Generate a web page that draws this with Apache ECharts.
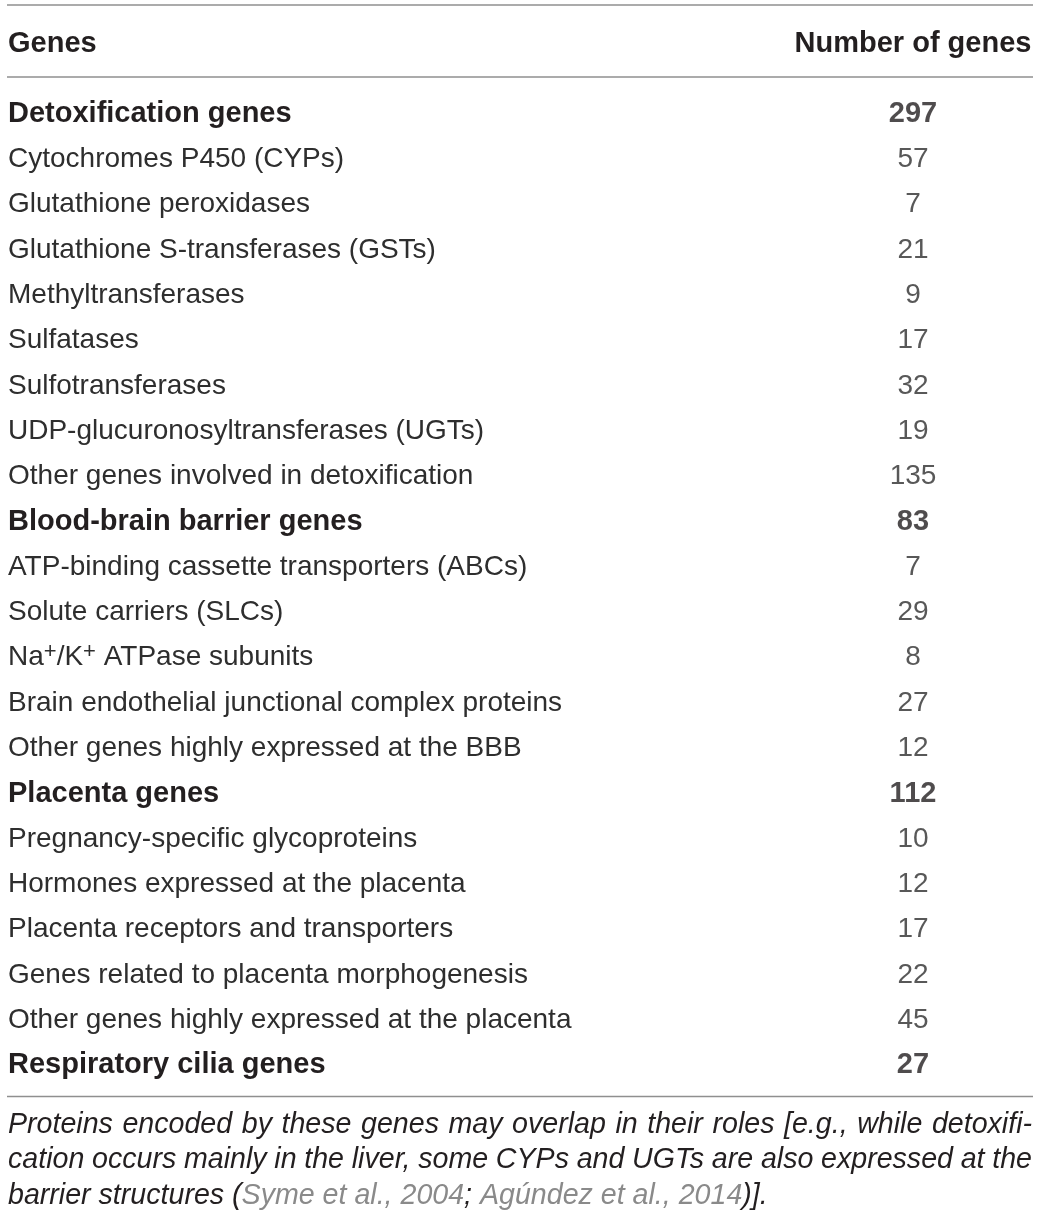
<!DOCTYPE html>
<html>
<head>
<meta charset="utf-8">
<script src="https://cdn.jsdelivr.net/npm/echarts@6/dist/echarts.min.js"></script>
<style>
  html, body { margin: 0; padding: 0; background: #fff; }
  #main { width: 1040px; height: 1219px; }
</style>
</head>
<body>
<div id="main"></div>
<script>
const headerGenes = 'Genes';
const headerCount = 'Number of genes';

const genes = [
    'Detoxification genes',
    'Cytochromes P450 (CYPs)',
    'Glutathione peroxidases',
    'Glutathione S-transferases (GSTs)',
    'Methyltransferases',
    'Sulfatases',
    'Sulfotransferases',
    'UDP-glucuronosyltransferases (UGTs)',
    'Other genes involved in detoxification',
    'Blood-brain barrier genes',
    'ATP-binding cassette transporters (ABCs)',
    'Solute carriers (SLCs)',
    'Na+/K+ ATPase subunits',
    'Brain endothelial junctional complex proteins',
    'Other genes highly expressed at the BBB',
    'Placenta genes',
    'Pregnancy-specific glycoproteins',
    'Hormones expressed at the placenta',
    'Placenta receptors and transporters',
    'Genes related to placenta morphogenesis',
    'Other genes highly expressed at the placenta',
    'Respiratory cilia genes'
];
const counts = [297, 57, 7, 21, 9, 17, 32, 19, 135, 83, 7, 29, 8, 27, 12, 112, 10, 12, 17, 22, 45, 27];
const groupRows = ['Detoxification genes', 'Blood-brain barrier genes', 'Placenta genes', 'Respiratory cilia genes'];

const noteLine1 = 'Proteins encoded by these genes may overlap in their roles [e.g., while detoxifi-';
const noteLine2 = 'cation occurs mainly in the liver, some CYPs and UGTs are also expressed at the';
const noteRefs = ['Syme et al., 2004', 'Agúndez et al., 2014'];

const FONT = '"Liberation Sans", Arial, sans-serif';
const DARK = '#231f20';
const TEXT = '#2e2e2e';
const RULE = '#8f8f8f';
const LINK = '#8a8a8a';

const rowTop = 91.5;
const rowH = 45.3;

// justified footnote lines, word by word
const measure = document.createElement('canvas').getContext('2d');
const noteFont = 'italic 28.6px ' + FONT;
measure.font = noteFont;

function justified(text, y) {
    const words = text.split(' ');
    const widths = words.map(w => measure.measureText(w).width);
    const total = widths.reduce((a, b) => a + b, 0);
    const gap = (1032 - 8 - total) / (words.length - 1);
    let x = 8;
    return words.map((w, i) => {
        const el = {
            type: 'text',
            style: { text: w, x: x, y: y, font: noteFont, fill: DARK, verticalAlign: 'middle' }
        };
        x += widths[i] + gap;
        return el;
    });
}

function geneLabel(value) {
    if (groupRows.indexOf(value) >= 0) return '{b|' + value + '}';
    if (value.indexOf('Na+/K+') === 0) {
        return '{n|Na}{s|+}{n|/K}{s|+}{n|' + value.slice(6) + '}';
    }
    return '{n|' + value + '}';
}

const chart = echarts.init(document.getElementById('main'));

chart.setOption({
    animation: false,
    title: {
        text: headerGenes,
        left: 8,
        top: 29,
        padding: 0,
        textStyle: { fontFamily: FONT, fontSize: 29, fontWeight: 'bold', color: DARK, lineHeight: 30 }
    },
    grid: [
        { left: 8, right: 8, top: rowTop, height: rowH * genes.length },
        { left: 795, right: 9, top: rowTop, height: rowH * genes.length }
    ],
    xAxis: [
        { gridIndex: 0, type: 'value', show: false },
        {
            gridIndex: 1,
            type: 'category',
            position: 'top',
            data: [headerCount],
            axisLine: { show: false },
            axisTick: { show: false },
            axisLabel: {
                margin: 48,
                verticalAlign: 'middle',
                fontFamily: FONT,
                fontSize: 29,
                fontWeight: 'bold',
                color: DARK
            }
        }
    ],
    yAxis: [
        {
            gridIndex: 0,
            type: 'category',
            inverse: true,
            data: genes,
            axisLine: { show: false },
            axisTick: { show: false },
            axisLabel: {
                inside: true,
                margin: 0,
                interval: 0,
                formatter: geneLabel,
                rich: {
                    b: { fontFamily: FONT, fontSize: 29, fontWeight: 'bold', color: DARK, lineHeight: 34 },
                    n: { fontFamily: FONT, fontSize: 28, color: TEXT, lineHeight: 34 },
                    s: { fontFamily: FONT, fontSize: 22, color: TEXT, lineHeight: 22, verticalAlign: 'top' }
                }
            }
        },
        {
            gridIndex: 1,
            type: 'category',
            inverse: true,
            data: genes,
            show: false
        }
    ],
    series: [
        {
            type: 'scatter',
            xAxisIndex: 1,
            yAxisIndex: 1,
            symbolSize: 1,
            itemStyle: { color: 'rgba(0,0,0,0)' },
            silent: true,
            data: genes.map((g, i) => {
                const bold = groupRows.indexOf(g) >= 0;
                return {
                    value: [headerCount, g, counts[i]],
                    label: { fontWeight: bold ? 'bold' : 'normal', fontSize: bold ? 29 : 28, color: bold ? DARK : TEXT }
                };
            }),
            label: {
                show: true,
                position: 'inside',
                fontFamily: FONT,
                formatter: p => String(p.value[2])
            }
        }
    ],
    graphic: [
        { type: 'line', shape: { x1: 7, y1: 5, x2: 1033, y2: 5 }, style: { stroke: RULE, lineWidth: 1.5 } },
        { type: 'line', shape: { x1: 7, y1: 77, x2: 1033, y2: 77 }, style: { stroke: RULE, lineWidth: 1.5 } },
        { type: 'line', shape: { x1: 7, y1: 1096.5, x2: 1033, y2: 1096.5 }, style: { stroke: RULE, lineWidth: 1.5 } }
    ]
        .concat(justified(noteLine1, 1125))
        .concat(justified(noteLine2, 1160.5))
        .concat([{
            type: 'text',
            style: {
                x: 8,
                y: 1196,
                verticalAlign: 'middle',
                text: '{t|barrier structures (}{l|' + noteRefs[0] + '}{t|; }{l|' + noteRefs[1] + '}{t|)].}',
                rich: {
                    t: { font: noteFont, fill: DARK },
                    l: { font: noteFont, fill: LINK }
                }
            }
        }])
});
</script>
</body>
</html>
